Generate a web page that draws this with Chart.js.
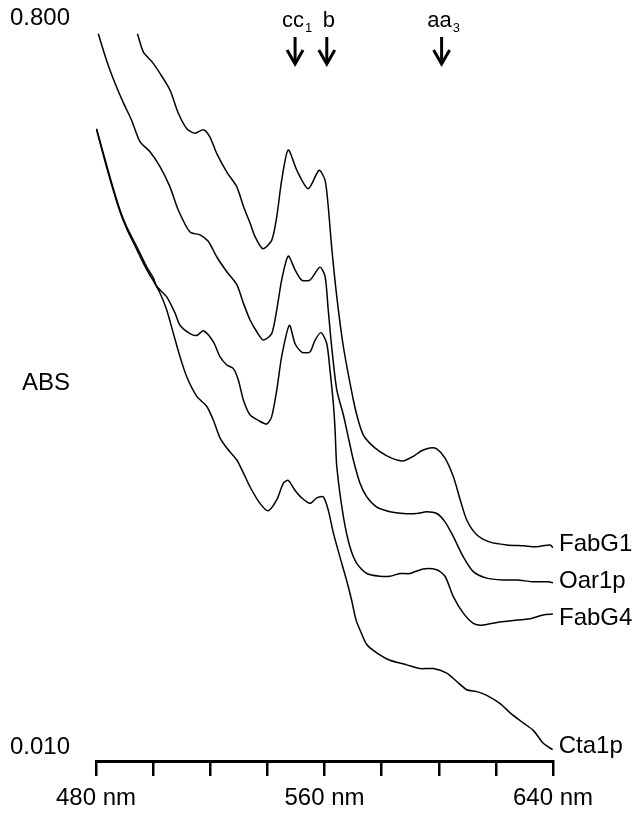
<!DOCTYPE html>
<html><head><meta charset="utf-8">
<script src="https://cdn.jsdelivr.net/npm/chart.js@4/dist/chart.umd.min.js"></script>
<style>html,body{margin:0;padding:0;background:#fff}#wrap{width:633px;height:813px;position:relative}</style>
</head><body><div id="wrap"><canvas id="c"></canvas></div>
<script>
// ---- data (wavelength in nm, absorbance) ----
const seriesNames = ['FabG1', 'Oar1p', 'FabG4', 'Cta1p'];

const fabG1Nm = [494.5,496.6,499.5,502.4,505.9,508.8,511.8,514.7,517.6,519.9,522.3,525.8,529.3,531.6,533.9,535.7,538.4,541.5,543.3,545.0,547.3,550.3,554.3,558.1,560.2,561.3,562.5,564.3,566.6,570.1,571.8,573.6,575.9,579.4,583.5,587.6,591.1,594.0,596.9,599.3,602.2,605.1,607.5,609.8,613.3,618.0,623.8,629.6,634.3,639.0,640];
const fabG1Abs = [0.783,0.763,0.753,0.740,0.722,0.697,0.680,0.675,0.679,0.671,0.653,0.633,0.617,0.596,0.578,0.563,0.550,0.559,0.585,0.624,0.657,0.635,0.615,0.635,0.624,0.596,0.552,0.498,0.444,0.386,0.364,0.348,0.339,0.330,0.323,0.320,0.325,0.331,0.334,0.333,0.323,0.303,0.278,0.256,0.240,0.232,0.229,0.228,0.227,0.229,0.226];

const oar1pNm = [480.8,483.7,486.7,489.6,492.5,495.4,498.9,502.4,505.9,508.8,512.9,516.4,519.3,522.3,525.8,529.3,531.6,533.9,536.3,538.6,541.5,543.3,545.0,547.3,549.7,552.0,554.9,558.4,560.2,561.3,562.5,564.3,566.6,568.3,570.1,572.4,574.8,578.3,582.9,587.6,592.3,595.8,599.3,602.2,605.1,608.6,612.1,616.8,622.6,627.3,633.1,638.4,640];
const oar1pAbs = [0.783,0.754,0.729,0.708,0.689,0.666,0.655,0.639,0.617,0.592,0.568,0.565,0.558,0.541,0.525,0.511,0.491,0.473,0.460,0.451,0.458,0.484,0.516,0.542,0.527,0.516,0.516,0.530,0.520,0.484,0.444,0.397,0.370,0.346,0.321,0.296,0.281,0.270,0.265,0.263,0.263,0.265,0.263,0.254,0.238,0.216,0.200,0.193,0.191,0.191,0.189,0.189,0.188];

const fabG4Nm = [480.2,482.6,485.5,488.4,490.7,494.3,497.8,500.1,501.3,504.7,507.7,509.4,512.9,515.3,517.6,521.1,523.4,525.8,528.1,529.8,531.6,533.9,536.8,539.8,541.5,543.3,545.0,547.7,549.7,552.0,554.9,556.7,558.8,560.8,561.9,563.1,563.7,564.3,566.6,568.9,571.3,574.8,579.4,582.9,586.4,589.9,594.6,599.3,602.2,605.1,608.6,612.1,615.0,620.3,626.1,632.0,636.6,640];
const fabG4Abs = [0.680,0.653,0.621,0.592,0.574,0.552,0.530,0.518,0.509,0.498,0.480,0.467,0.458,0.456,0.461,0.449,0.433,0.424,0.420,0.408,0.386,0.370,0.364,0.360,0.368,0.397,0.433,0.467,0.447,0.438,0.438,0.451,0.459,0.447,0.419,0.382,0.354,0.314,0.260,0.227,0.209,0.198,0.195,0.195,0.198,0.198,0.203,0.202,0.195,0.173,0.155,0.144,0.142,0.145,0.147,0.149,0.153,0.154];

const cta1pNm = [480.2,482.6,485.5,488.4,490.7,494.3,497.8,500.1,502.4,504.7,507.1,509.4,511.8,515.3,518.8,521.1,523.4,525.8,529.3,531.6,533.9,537.4,540.3,543.3,545.6,547.3,549.7,552.0,554.9,557.3,559.6,561.3,563.1,565.4,567.7,569.5,571.0,572.4,574.8,578.3,582.9,588.8,593.4,598.1,602.8,606.3,609.8,613.3,616.8,621.5,625.0,629.6,633.1,636.6,639.9];
const cta1pAbs = [0.679,0.651,0.619,0.590,0.572,0.549,0.527,0.515,0.502,0.484,0.458,0.433,0.411,0.390,0.379,0.364,0.345,0.334,0.321,0.307,0.292,0.274,0.266,0.278,0.296,0.299,0.288,0.280,0.274,0.280,0.281,0.267,0.242,0.216,0.191,0.169,0.148,0.137,0.121,0.112,0.104,0.099,0.095,0.095,0.090,0.081,0.072,0.070,0.066,0.057,0.047,0.036,0.028,0.014,0.007];

// axes
const xTickValues = [480,500,520,540,560,580,600,620,640];
const xTickLabels = {480:'480 nm', 560:'560 nm', 640:'640 nm'};
const yTickValues = [0.800, 0.010];
const yTickLabels = ['0.800', '0.010'];
const yTitle = 'ABS';

// band markers (cytochromes)
const bandMain = ['cc', 'b', 'aa'];
const bandSub  = ['1', '', '3'];
const bandNm   = [549.7, 560.8, 601.0];

// ---- build ----
const pairs = (xs, ys) => xs.map((v, i) => ({x: v, y: ys[i]}));
const allNm = [fabG1Nm, oar1pNm, fabG4Nm, cta1pNm];
const allAbs = [fabG1Abs, oar1pAbs, fabG4Abs, cta1pAbs];

const FONT = '"Liberation Sans", Arial, Helvetica, sans-serif';
const labelDy = [-3, -1, 4, -3];

const annotate = {
  id: 'annotate',
  afterDraw(chart) {
    const {ctx, chartArea, scales: {x, y}} = chart;
    ctx.save();
    ctx.fillStyle = '#000';
    ctx.strokeStyle = '#000';
    ctx.font = '24px ' + FONT;
    ctx.textAlign = 'left';
    ctx.textBaseline = 'middle';
    chart.data.datasets.forEach((ds, i) => {
      const last = ds.data[ds.data.length - 1];
      ctx.fillText(ds.label, x.getPixelForValue(last.x) + 6, y.getPixelForValue(last.y) + labelDy[i]);
    });
    ctx.textAlign = 'right';
    ctx.fillText(yTitle, chartArea.left - 26, (chartArea.top + chartArea.bottom) / 2 - 6);
    bandNm.forEach((nm, i) => {
      const px = x.getPixelForValue(nm);
      ctx.lineWidth = 3;
      ctx.lineCap = 'butt';
      ctx.beginPath(); ctx.moveTo(px, chartArea.top + 19); ctx.lineTo(px, chartArea.top + 46); ctx.stroke();
      ctx.lineJoin = 'miter';
      ctx.beginPath(); ctx.moveTo(px - 8, chartArea.top + 32); ctx.lineTo(px, chartArea.top + 46); ctx.lineTo(px + 8, chartArea.top + 32); ctx.stroke();
      ctx.font = '22px ' + FONT;
      const wMain = ctx.measureText(bandMain[i]).width;
      ctx.font = '13px ' + FONT;
      const wSub = bandSub[i] ? ctx.measureText(bandSub[i]).width + 1 : 0;
      const x0 = px + 2 - (wMain + wSub) / 2;
      ctx.textAlign = 'left';
      ctx.textBaseline = 'alphabetic';
      ctx.font = '22px ' + FONT;
      ctx.fillText(bandMain[i], x0, chartArea.top + 9);
      if (bandSub[i]) {
        ctx.font = '13px ' + FONT;
        ctx.fillText(bandSub[i], x0 + wMain + 1, chartArea.top + 14);
      }
    });
    ctx.restore();
  }
};

new Chart(document.getElementById('c'), {
  type: 'line',
  data: {
    datasets: seriesNames.map((name, i) => ({
      label: name,
      data: pairs(allNm[i], allAbs[i]),
      borderColor: '#000',
      borderWidth: 1.5,
      pointRadius: 0,
      tension: 0.25,
      fill: false
    }))
  },
  options: {
    responsive: true,
    maintainAspectRatio: false,
    animation: false,
    layout: {padding: {top: 18, right: 80, left: 0, bottom: 0}},
    plugins: {legend: {display: false}, tooltip: {enabled: false}},
    scales: {
      x: {
        type: 'linear',
        min: 480, max: 640,
        afterBuildTicks: s => { s.ticks = xTickValues.map(v => ({value: v})); },
        afterFit: s => { s.height = 52; s.paddingLeft = 0; s.paddingRight = 0; },
        grid: {display: true, drawOnChartArea: false, drawTicks: true, tickLength: 15, lineWidth: 2.5, color: '#000'},
        border: {display: true, width: 3, color: '#000'},
        ticks: {
          autoSkip: false, maxRotation: 0, padding: 8, color: '#000',
          font: {family: FONT, size: 24},
          callback: v => xTickLabels[v] || ''
        }
      },
      y: {
        type: 'linear',
        min: -0.0052, max: 0.8,
        afterBuildTicks: s => { s.ticks = yTickValues.map(v => ({value: v})); },
        afterFit: s => { s.width = 96; s.paddingTop = 0; s.paddingBottom = 0; },
        grid: {display: false, drawTicks: false},
        border: {display: false},
        ticks: {
          padding: 26, color: '#000',
          font: {family: FONT, size: 24},
          callback: (v, i) => yTickLabels[i]
        }
      }
    }
  },
  plugins: [annotate]
});
</script>
</body></html>
